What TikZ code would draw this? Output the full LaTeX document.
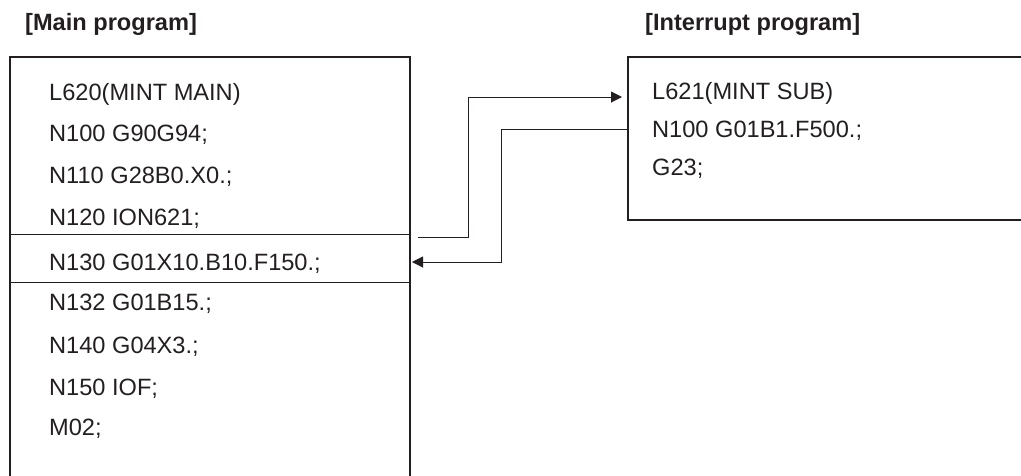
\documentclass[tikz,border=0pt]{standalone}
\usepackage{fontspec}
\setmainfont{Liberation Sans}
\usepackage{xcolor}
\usepackage{tikz}
\usetikzlibrary{arrows.meta,positioning,calc}
\definecolor{PrgInk}{HTML}{231F20}
\newcommand{\prgfont}{\fontsize{23.6}{28}\selectfont}
\tikzset{
  prgline/.style={anchor=west,inner sep=0pt,text height=17pt,text depth=0pt,font=\prgfont,text=PrgInk},
  prgtitle/.style={prgline,font=\prgfont\bfseries},
  prgbox/.style={line width=1.8pt,draw=PrgInk,line cap=rect},
  sepline/.style={line width=1pt,draw=PrgInk},
  jumparrow/.style={-{Triangle[length=11pt,width=11pt]},line width=1pt,draw=PrgInk}
}

\begin{document}
\begin{tikzpicture}[x=1pt,y=-1pt]
\useasboundingbox (0,0) rectangle (1021,475);
% titles
\node[prgtitle] (tmain) at (25,22) {[Main program]};
\node[prgtitle] (tsub) at (645,22) {[Interrupt program]};
% main program
\draw[prgbox] (10,480) -- (10,57) -- (410,57) -- (410,480);
\draw[sepline] (10,234) -- (410,234);
\draw[sepline] (10,282) -- (410,282);
\node[prgline] (l620) at (49,92) {L620(MINT MAIN)};
\node[prgline] (n100) at (49,133) {N100 G90G94;};
\node[prgline] (n110) at (49,175) {N110 G28B0.X0.;};
\node[prgline] (n120) at (49,217) {N120 ION621;};
\node[prgline] (n130) at (49,262) {N130 G01X10.B10.F150.;};
\node[prgline] (n132) at (49,302) {N132 G01B15.;};
\node[prgline] (n140) at (49,345) {N140 G04X3.;};
\node[prgline] (n150) at (49,387) {N150 IOF;};
\node[prgline] (m02) at (49,427) {M02;};
% interrupt program
\draw[prgbox] (1030,57) -- (628,57) -- (628,220) -- (1030,220);
\node[prgline] (l621) at (652,91) {L621(MINT SUB)};
\node[prgline] (s100) at (652,129) {N100 G01B1.F500.;};
\node[prgline] (g23) at (652,167) {G23;};
% jumps
\coordinate (callout) at (418,237);
\coordinate (subentry) at (622,97);
\coordinate (subexit) at (628,129);
\coordinate (mainback) at (412,262);
\draw[jumparrow] (callout) -- ++(50,0) |- (subentry);
\draw[jumparrow] (subexit) -- ++(-127,0) |- (mainback);
\end{tikzpicture}
\end{document}
